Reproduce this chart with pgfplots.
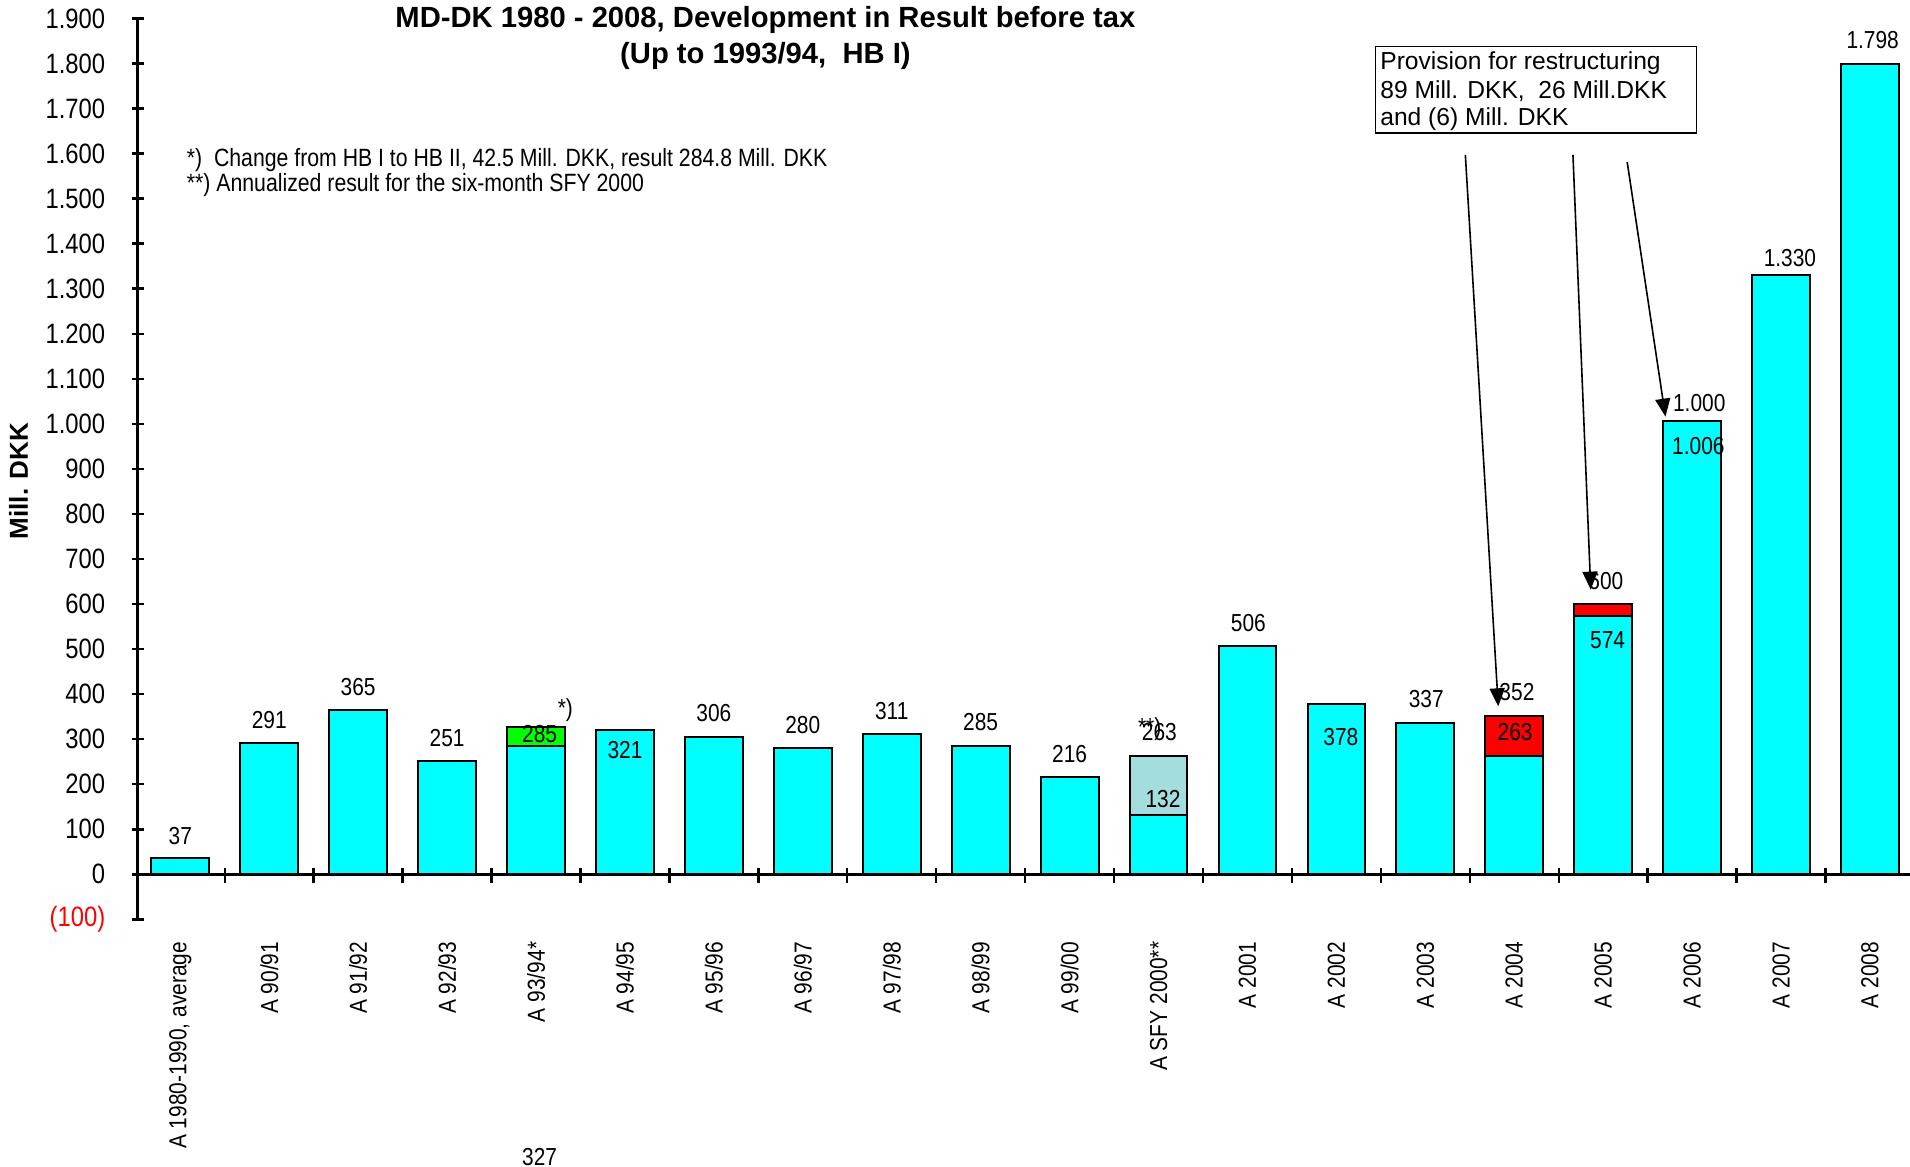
\documentclass[border=0pt]{standalone}
\usepackage{pgfplots}
\pgfplotsset{compat=1.18}
\usepackage{fontspec}
\setmainfont{Liberation Sans}
\newfontfamily\narrow{Liberation Sans}[FakeStretch=0.85]
\usetikzlibrary{arrows.meta}
\definecolor{barcyan}{RGB}{0,255,255}
\definecolor{bargreen}{RGB}{0,255,0}
\definecolor{barred}{RGB}{255,0,0}
\definecolor{barteal}{RGB}{164,221,222}
\newcommand\lbl{\narrow\fontsize{12.3}{14}\selectfont}
\begin{document}
\begin{tikzpicture}
\useasboundingbox (-68.8pt,-123.7pt) rectangle (886.2pt,459.7pt);
\begin{axis}[
  at={(0pt,0pt)}, anchor=south west,
  scale only axis, width=886.2pt, height=450.5pt,
  xmin=-0.48, xmax=19.45, ymin=-100, ymax=1900,
  clip=false,
  axis x line*=bottom, axis y line*=left,
  x axis line style={draw=none},
  y axis line style={line width=1.2pt},
  xtick={0,...,19},
  xticklabels={{A 1980-1990, average},A 90/91,A 91/92,A 92/93,A 93/94*,A 94/95,A 95/96,A 96/97,A 97/98,A 98/99,A 99/00,A SFY 2000**,A 2001,A 2002,A 2003,A 2004,A 2005,A 2006,A 2007,A 2008},
  xtick style={draw=none},
  xticklabel style={rotate=90, anchor=east, inner sep=0pt, font=\narrow\fontsize{12.3}{14}\selectfont},
  xticklabel shift=8pt,
  ytick={-100,0,100,200,300,400,500,600,700,800,900,1000,1100,1200,1300,1400,1500,1600,1700,1800,1900},
  yticklabels={{\textcolor{red}{(100)}},0,100,200,300,400,500,600,700,800,900,1.000,1.100,1.200,1.300,1.400,1.500,1.600,1.700,1.800,1.900},
  ytick style={line width=1.2pt, black},
  tick align=center, major tick length=6pt,
  yticklabel style={font=\narrow\fontsize{14}{16}\selectfont, inner sep=0pt, anchor=east},
  yticklabel shift=13pt,
]
% top segments (drawn first, full height)
\addplot[ybar, bar width=0.65, bar shift=0pt, fill=bargreen, draw=black, line width=1pt] coordinates {(4,327)};
\addplot[ybar, bar width=0.65, bar shift=0pt, fill=barteal, draw=black, line width=1pt] coordinates {(11,263)};
\addplot[ybar, bar width=0.65, bar shift=0pt, fill=barred, draw=black, line width=1pt] coordinates {(15,352) (16,600)};
% base bars
\addplot[ybar, bar width=0.65, bar shift=0pt, fill=barcyan, draw=black, line width=1pt] coordinates {
(0,37) (1,291) (2,365) (3,251) (4,285) (5,321) (6,306) (7,280) (8,311) (9,285)
(10,216) (11,132) (12,506) (13,378) (14,337) (15,263) (16,574) (17,1006) (18,1330) (19,1798)};

% zero line and category ticks
\draw[line width=1.4pt] (axis cs:-0.48,0) -- (axis cs:19.45,0);
\pgfplotsinvokeforeach{0.5,1.5,2.5,3.5,4.5,5.5,6.5,7.5,8.5,9.5,10.5,11.5,12.5,13.5,14.5,15.5,16.5,17.5,18.5}{
  \draw[line width=1.2pt] ([yshift=3pt]axis cs:#1,0) -- ([yshift=-4.5pt]axis cs:#1,0);
}

% value labels
\node[font=\lbl] at (axis cs:0,86) {37};
\node[font=\lbl] at (axis cs:1,343) {291};
\node[font=\lbl] at (axis cs:2,416) {365};
\node[font=\lbl] at (axis cs:3,303) {251};
\node[font=\lbl] at (axis cs:4.04,311) {285};
\node[font=\lbl] at (axis cs:4.33,365) {*)};
\node[font=\lbl] at (axis cs:5,276) {321};
\node[font=\lbl] at (axis cs:6,357) {306};
\node[font=\lbl] at (axis cs:7,332) {280};
\node[font=\lbl] at (axis cs:8,362) {311};
\node[font=\lbl] at (axis cs:9,338) {285};
\node[font=\lbl] at (axis cs:10,268) {216};
\node[font=\lbl] at (axis cs:11.01,316) {263};
\node[font=\lbl] at (axis cs:10.9,322) {**)};
\node[font=\lbl] at (axis cs:11.05,168) {132};
\node[font=\lbl] at (axis cs:12.01,557) {506};
\node[font=\lbl] at (axis cs:13.05,305) {378};
\node[font=\lbl] at (axis cs:14.01,389) {337};
\node[font=\lbl] at (axis cs:15.03,405) {352};
\node[font=\lbl] at (axis cs:15.01,316) {263};
\node[font=\lbl] at (axis cs:16.03,651) {600};
\node[font=\lbl] at (axis cs:16.05,519) {574};
\node[font=\lbl] at (axis cs:17.08,1046) {1.000};
\node[font=\lbl] at (axis cs:17.07,951) {1.006};
\node[font=\lbl] at (axis cs:18.1,1368) {1.330};
\node[font=\lbl] at (axis cs:19.03,1851) {1.798};
\node[font=\lbl] at (axis cs:4.04,-627) {327};

% title
\node[font=\fontsize{14.6}{16}\selectfont\bfseries] at (axis cs:6.58,1897) {MD-DK 1980 - 2008, Development in Result before tax};
\node[font=\fontsize{14.6}{16}\selectfont\bfseries] at (axis cs:6.58,1816) {(Up to 1993/94,\ \ HB I)};

% footnotes
\node[font=\narrow\fontsize{12.5}{14}\selectfont, anchor=west, inner sep=0pt] at (axis cs:0.07,1586) {*)\ \ Change from HB I to HB II, 42.5 Mill. DKK, result 284.8 Mill. DKK};
\node[font=\narrow\fontsize{12.5}{14}\selectfont, anchor=west, inner sep=0pt] at (axis cs:0.07,1530) {**) Annualized result for the six-month SFY 2000};

% y label
\node[font=\fontsize{13}{15}\selectfont\bfseries, rotate=90] at (axis cs:-1.82,873) {Mill. DKK};

% annotation box
\draw[line width=0.8pt] (axis cs:13.44,1838) rectangle (axis cs:17.05,1646);
\node[font=\fontsize{12.3}{14}\selectfont, anchor=west, inner sep=0pt] at (axis cs:13.49,1800) {Provision for restructuring};
\node[font=\fontsize{12.3}{14}\selectfont, anchor=west, inner sep=0pt] at (axis cs:13.49,1738) {89 Mill. DKK,\ \ 26 Mill.DKK};
\node[font=\fontsize{12.3}{14}\selectfont, anchor=west, inner sep=0pt] at (axis cs:13.49,1676) {and (6) Mill. DKK};

% arrows
\draw[line width=0.8pt, -{Triangle[length=9pt,width=7.5pt]}] (axis cs:14.45,1597) -- (axis cs:14.82,373);
\draw[line width=0.8pt, -{Triangle[length=9pt,width=7.5pt]}] (axis cs:15.66,1597) -- (axis cs:15.86,632);
\draw[line width=0.8pt, -{Triangle[length=9pt,width=7.5pt]}] (axis cs:16.27,1581) -- (axis cs:16.70,1016);
\end{axis}
\end{tikzpicture}
\end{document}
